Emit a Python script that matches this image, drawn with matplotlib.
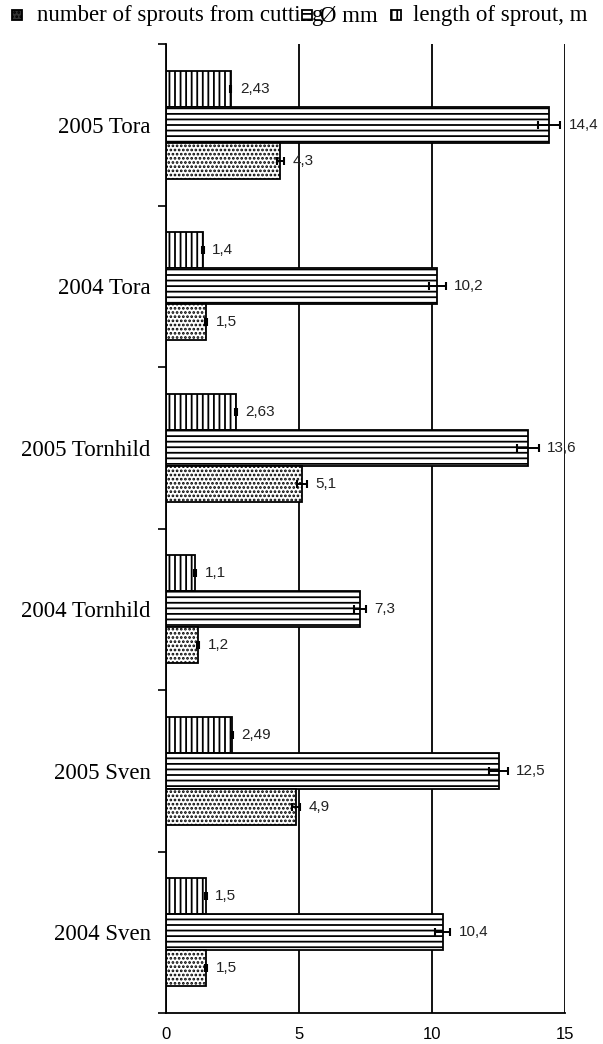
import matplotlib
matplotlib.use("Agg")
import matplotlib.pyplot as plt
from matplotlib.patches import Rectangle
import numpy as np

categories = ["2005 Tora", "2004 Tora", "2005 Tornhild", "2004 Tornhild", "2005 Sven", "2004 Sven"]
length_sprout = [2.43, 1.4, 2.63, 1.1, 2.49, 1.5]
length_err = [0.03, 0.03, 0.03, 0.03, 0.03, 0.03]
diam_mm = [14.4, 10.2, 13.6, 7.3, 12.5, 10.4]
diam_err = [0.43, 0.32, 0.41, 0.22, 0.35, 0.29]
num_sprouts = [4.3, 1.5, 5.1, 1.2, 4.9, 1.5]
num_err = [0.14, 0.05, 0.19, 0.05, 0.15, 0.05]
legend_labels = ["number of sprouts from cutting", "\u00d8 mm", "length of sprout, m"]
xticks = [0, 5, 10, 15]

plt.rcParams['hatch.linewidth'] = 1.3
plt.rcParams['hatch.color'] = 'black'

W, H = 603, 1044
fig = plt.figure(figsize=(W / 100, H / 100), dpi=100)
ax = fig.add_axes([166 / W, 1 - 1013 / H, (565 - 166) / W, (1013 - 44) / H])

pos = np.arange(len(categories))
bh = 0.223
series = [
    (length_sprout, length_err, -bh, '|||'),
    (diam_mm, diam_err, 0.0, '---'),
    (num_sprouts, num_err, bh, '....'),
]
for vals, errs, off, hatch in series:
    ax.barh(pos + off, vals, height=bh, color='white', edgecolor='black',
            linewidth=1.3, hatch=hatch, zorder=2)
    ax.errorbar(vals, pos + off, xerr=errs, fmt='none', ecolor='black',
                elinewidth=1.4, capsize=3, capthick=1.5, zorder=3)
    for v, e, y in zip(vals, errs, pos + off):
        ax.annotate(f"{v:g}".replace('.', ','), xy=(v + e, y), xytext=(6, 0),
                    textcoords='offset points', ha='left', va='center',
                    fontsize=11, family='Liberation Sans', color='#222222', zorder=4)

ax.set_xlim(0, 15)
ax.set_ylim(len(categories) - 0.5, -0.5)
ax.set_xticks(xticks)
ax.set_xticklabels([str(t) for t in xticks], family='Liberation Sans', fontsize=12)
ax.tick_params(axis='x', length=0, pad=10)
ax.set_yticks(np.arange(len(categories) + 1) - 0.5)
ax.set_yticklabels([])
ax.set_yticks(pos, minor=True)
ax.set_yticklabels(categories, minor=True, family='Liberation Serif', fontsize=16.5)
ax.tick_params(axis='y', which='major', length=6, width=1.2, direction='out')
ax.tick_params(axis='y', which='minor', length=0, pad=11)
ax.xaxis.grid(True, color='black', linewidth=1.3)
ax.set_axisbelow(True)
for s in ['top', 'right']:
    ax.spines[s].set_visible(False)
for s in ['left', 'bottom']:
    ax.spines[s].set_linewidth(1.3)

# legend (manual, mimicking the original overlapping layout)
base_y = 1 - 21 / H
patch_x = [12, 302, 391]
text_x = [37, 320, 413]
hatches = ['....', '---', '|||']
faces = ['#333333', 'white', 'white']
for px, tx, lab, hh, fc in zip(patch_x, text_x, legend_labels, hatches, faces):
    fig.text(tx / W, base_y, lab, family='Liberation Serif', fontsize=16.5,
             ha='left', va='baseline')
    r = Rectangle((px / W, 1 - 20 / H), 10 / W, 10 / H, transform=fig.transFigure,
                  facecolor=fc, edgecolor='black', linewidth=1.3, hatch=hh, zorder=5)
    fig.add_artist(r)

fig.savefig("out.png", dpi=100)
